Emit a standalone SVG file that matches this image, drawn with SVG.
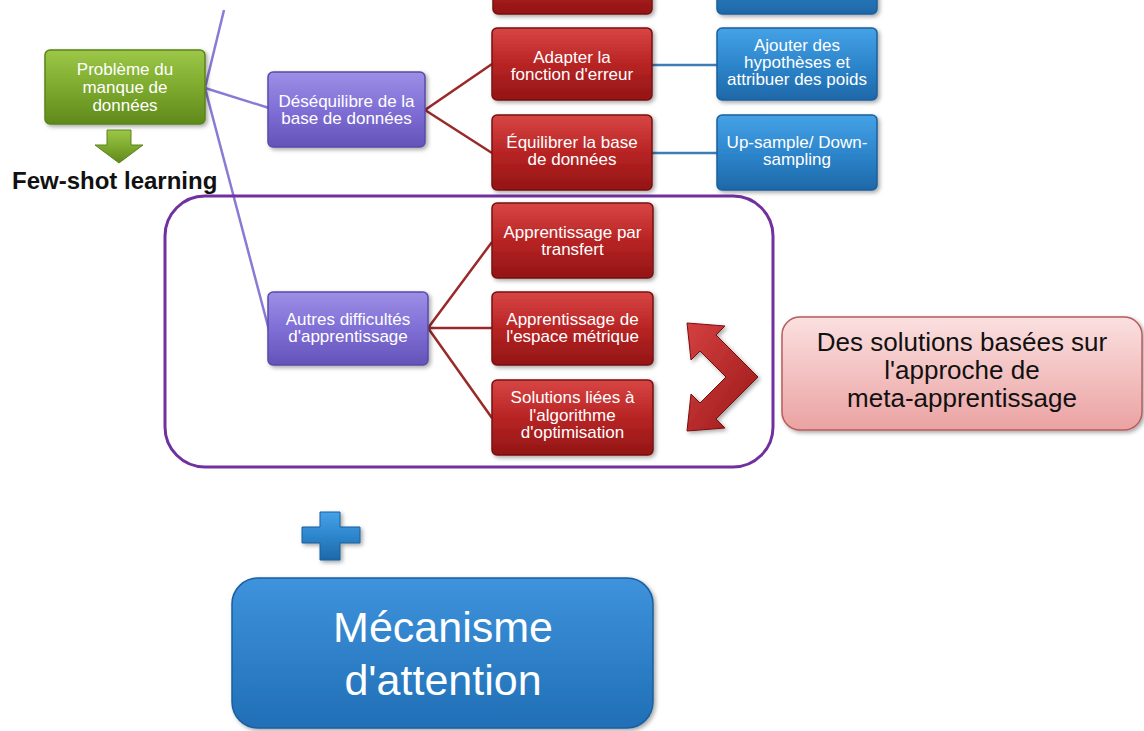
<svg xmlns="http://www.w3.org/2000/svg" width="1144" height="731" viewBox="0 0 1144 731">
<defs>
<linearGradient id="gGreen" x1="0" y1="0" x2="0" y2="1"><stop offset="0" stop-color="#9cc748"/><stop offset="0.5" stop-color="#7eaa2e"/><stop offset="1" stop-color="#5f8a1c"/></linearGradient>
<linearGradient id="gPurple" x1="0" y1="0" x2="0" y2="1"><stop offset="0" stop-color="#9d8fe6"/><stop offset="0.5" stop-color="#7f6fd6"/><stop offset="1" stop-color="#6453b8"/></linearGradient>
<linearGradient id="gRed" x1="0" y1="0" x2="0" y2="1"><stop offset="0" stop-color="#d84545"/><stop offset="0.5" stop-color="#b82424"/><stop offset="1" stop-color="#931515"/></linearGradient>
<linearGradient id="gBlue" x1="0" y1="0" x2="0" y2="1"><stop offset="0" stop-color="#46a2e6"/><stop offset="0.5" stop-color="#2d86cc"/><stop offset="1" stop-color="#1e68a8"/></linearGradient>
<linearGradient id="gBig" x1="0" y1="0" x2="0" y2="1"><stop offset="0" stop-color="#3e93dc"/><stop offset="1" stop-color="#206fb6"/></linearGradient>
<linearGradient id="gPink" x1="0" y1="0" x2="0" y2="1"><stop offset="0" stop-color="#fbe0e0"/><stop offset="1" stop-color="#eba2a2"/></linearGradient>
<linearGradient id="gChev" x1="0" y1="0" x2="1" y2="1"><stop offset="0" stop-color="#d44040"/><stop offset="1" stop-color="#9a1818"/></linearGradient>
<filter id="sh" x="-10%" y="-10%" width="125%" height="130%"><feDropShadow dx="2" dy="2" stdDeviation="2" flood-color="#000" flood-opacity="0.35"/></filter>
<style>
.box{filter:url(#sh);stroke-width:1.5}
.green{fill:url(#gGreen);stroke:#5a8418}
.purple{fill:url(#gPurple);stroke:#5a4aa8}
.red{fill:url(#gRed);stroke:#7a1010}
.blue{fill:url(#gBlue);stroke:#1a5f9e}
.t{font-family:"Liberation Sans",Arial,sans-serif;font-size:17px;fill:#fff;text-anchor:middle}
.lp{stroke:#8a7ad6;stroke-width:2.5;fill:none}
.lr{stroke:#9a2a2a;stroke-width:2.5;fill:none}
.lb{stroke:#3c7eb5;stroke-width:2.5;fill:none}
</style>
</defs>
<rect width="1144" height="731" fill="#fff"/>

<g id="connectors">
<line class="lp" x1="224" y1="10" x2="205" y2="88"/>
<line class="lp" x1="205" y1="88" x2="269" y2="108"/>
<line class="lp" x1="205" y1="88" x2="269" y2="330"/>
<polyline class="lr" points="492,64 425,110 492,153"/>
<line class="lb" x1="652" y1="65" x2="717" y2="65"/>
<line class="lb" x1="652" y1="153" x2="717" y2="153"/>
<polyline class="lr" points="492,242 428,328 492,418"/>
<line class="lr" x1="428" y1="328" x2="492" y2="328"/>
</g>

<g id="group-frame">
<rect x="165" y="196" width="608" height="271" rx="40" fill="none" stroke="#7030a0" stroke-width="3"/>
</g>

<g id="node-probleme">
<rect class="box green" x="45" y="50" width="160" height="74" rx="5"/>
<text class="t" x="125" y="75">Problème du</text>
<text class="t" x="125" y="93">manque de</text>
<text class="t" x="125" y="111">données</text>
</g>

<g id="arrow-fewshot">
<polygon points="107,130 131,130 131,145 143,145 119,163 95,145 107,145" fill="url(#gGreen)" stroke="#5a8418" stroke-width="1"/>
<text x="12" y="189" font-family="Liberation Sans,Arial,sans-serif" font-size="24" font-weight="bold" fill="#111">Few-shot learning</text>
</g>

<g id="node-desequilibre">
<rect class="box purple" x="268" y="72" width="157" height="75" rx="5"/>
<text class="t" x="346.5" y="107">Déséquilibre de la</text>
<text class="t" x="346.5" y="124">base de données</text>
</g>

<g id="node-red-top">
<rect class="box red" x="493" y="-60" width="159" height="74" rx="5"/>
</g>
<g id="node-blue-top">
<rect class="box blue" x="717" y="-60" width="160" height="74" rx="5"/>
</g>

<g id="node-adapter">
<rect class="box red" x="492" y="28" width="160" height="72" rx="5"/>
<text class="t" x="572" y="63">Adapter la</text>
<text class="t" x="572" y="80">fonction d'erreur</text>
</g>

<g id="node-equilibrer">
<rect class="box red" x="492" y="115" width="160" height="75" rx="5"/>
<text class="t" x="572" y="148">Équilibrer la base</text>
<text class="t" x="572" y="165">de données</text>
</g>

<g id="node-ajouter">
<rect class="box blue" x="717" y="28" width="160" height="72" rx="5"/>
<text class="t" x="797" y="51">Ajouter des</text>
<text class="t" x="797" y="68">hypothèses et</text>
<text class="t" x="797" y="85">attribuer des poids</text>
</g>

<g id="node-upsample">
<rect class="box blue" x="717" y="115" width="160" height="75" rx="5"/>
<text class="t" x="797" y="148">Up-sample/ Down-</text>
<text class="t" x="797" y="165">sampling</text>
</g>

<g id="node-autres">
<rect class="box purple" x="268" y="292" width="160" height="73" rx="5"/>
<text class="t" x="348" y="325">Autres difficultés</text>
<text class="t" x="348" y="342">d'apprentissage</text>
</g>

<g id="node-transfert">
<rect class="box red" x="492" y="203" width="161" height="75" rx="5"/>
<text class="t" x="572.5" y="238">Apprentissage par</text>
<text class="t" x="572.5" y="255">transfert</text>
</g>

<g id="node-metrique">
<rect class="box red" x="492" y="292" width="161" height="73" rx="5"/>
<text class="t" x="572.5" y="325">Apprentissage de</text>
<text class="t" x="572.5" y="342">l'espace métrique</text>
</g>

<g id="node-optimisation">
<rect class="box red" x="492" y="380" width="161" height="75" rx="5"/>
<text class="t" x="572.5" y="403">Solutions liées à</text>
<text class="t" x="572.5" y="421">l'algorithme</text>
<text class="t" x="572.5" y="438">d'optimisation</text>
</g>

<g id="chevron-arrow">
<polygon points="758,377 716,335 725,326 687,323 691,360 700,351 726,377 700,403 691,394 687,431 725,428 716,419" fill="url(#gChev)" stroke="#7a1010" stroke-width="1" filter="url(#sh)"/>
</g>

<g id="node-meta">
<rect x="782" y="317" width="360" height="113" rx="18" fill="url(#gPink)" stroke="#b85c5c" stroke-width="1.5" filter="url(#sh)"/>
<text x="962" y="351" font-family="Liberation Sans,Arial,sans-serif" font-size="26" fill="#111" text-anchor="middle">Des solutions basées sur</text>
<text x="962" y="379" font-family="Liberation Sans,Arial,sans-serif" font-size="26" fill="#111" text-anchor="middle">l'approche de</text>
<text x="962" y="407" font-family="Liberation Sans,Arial,sans-serif" font-size="26" fill="#111" text-anchor="middle">meta-apprentissage</text>
</g>

<g id="plus">
<path d="M320,512 H340 V527 H360 V543 H340 V560 H320 V543 H302 V527 H320 Z" fill="url(#gBlue)" stroke="#1a5f9e" stroke-width="1" filter="url(#sh)"/>
</g>

<g id="node-attention">
<rect x="232" y="578" width="421" height="150" rx="26" fill="url(#gBig)" stroke="#1a5f9e" stroke-width="1.5" filter="url(#sh)"/>
<text x="443" y="642" font-family="Liberation Sans,Arial,sans-serif" font-size="43" fill="#fff" text-anchor="middle">Mécanisme</text>
<text x="443" y="695" font-family="Liberation Sans,Arial,sans-serif" font-size="43" fill="#fff" text-anchor="middle">d'attention</text>
</g>
</svg>
